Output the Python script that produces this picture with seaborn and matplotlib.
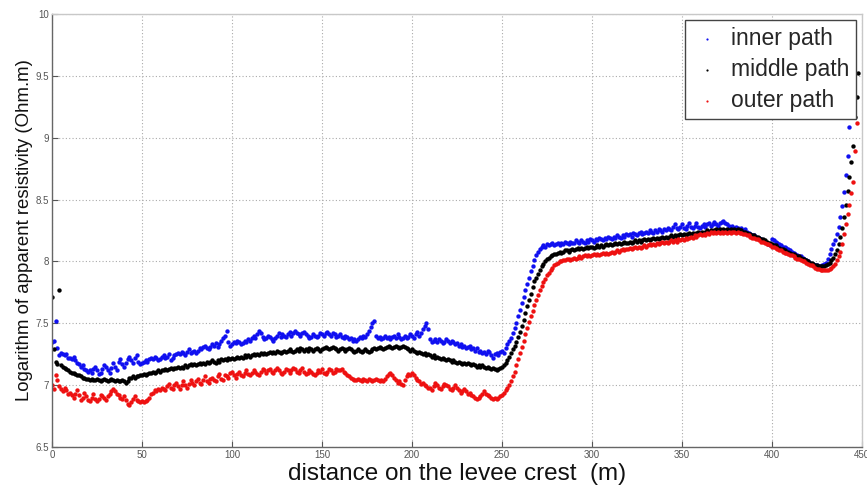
import numpy as np
import pandas as pd
import matplotlib
matplotlib.use("Agg")
import matplotlib.pyplot as plt
import seaborn as sns

nan = np.nan
# distance along the levee crest (m), 1 m steps
distance = list(range(0, 449))

inner_path = [
    7.35, 7.36, 7.52, 7.30, 7.24, 7.26, 7.25, 7.24, 7.25, 7.22,
    7.22, 7.21, 7.23, 7.20, 7.18, 7.17, 7.15, 7.16, 7.13, 7.12,
    7.11, 7.12, 7.10, 7.13, 7.15, 7.12, 7.09, 7.10, 7.13, 7.16,
    7.15, 7.12, 7.10, 7.14, 7.18, 7.15, 7.12, 7.19, 7.21, 7.17,
    7.15, 7.18, 7.21, 7.23, 7.20, 7.18, 7.22, 7.24, 7.19, 7.17,
    7.18, 7.19, 7.20, 7.19, 7.21, 7.22, 7.21, 7.23, 7.22, 7.20,
    7.21, 7.23, 7.24, 7.22, 7.23, 7.25, 7.20, 7.22, 7.24, 7.25,
    7.26, 7.25, 7.27, 7.26, 7.24, 7.27, 7.29, 7.26, 7.27, 7.28,
    7.26, 7.28, 7.30, 7.29, 7.31, 7.32, 7.30, 7.29, 7.31, 7.33,
    7.32, 7.34, 7.31, 7.33, 7.36, 7.38, 7.40, 7.44, 7.35, 7.32,
    7.33, 7.35, 7.34, 7.36, 7.35, 7.33, 7.34, 7.36, 7.35, 7.37,
    7.36, 7.38, 7.40, 7.38, 7.41, 7.44, 7.42, 7.39, 7.37, 7.38,
    7.40, 7.39, 7.37, 7.36, 7.38, 7.40, 7.42, 7.39, 7.41, 7.40,
    7.39, 7.41, 7.43, 7.40, 7.42, 7.44, 7.42, 7.41, 7.40, 7.42,
    7.43, 7.41, 7.40, 7.38, 7.39, 7.41, 7.40, 7.39, 7.40, 7.42,
    7.41, 7.40, 7.42, 7.43, 7.41, 7.40, 7.42, 7.41, 7.39, 7.40,
    7.41, 7.39, 7.38, 7.40, 7.39, 7.37, 7.38, 7.36, 7.37, 7.36,
    7.37, 7.39, 7.38, 7.40, 7.39, 7.41, 7.44, 7.47, 7.50, 7.52,
    7.40, 7.38, 7.39, 7.37, 7.38, 7.40, 7.38, 7.39, 7.37, 7.39,
    7.40, 7.38, 7.41, 7.39, 7.37, 7.38, 7.40, 7.38, 7.39, 7.41,
    7.40, 7.38, 7.41, 7.43, 7.40, 7.42, 7.45, 7.48, 7.50, 7.45,
    7.37, 7.35, 7.36, 7.37, 7.35, 7.37, 7.36, 7.34, 7.35, 7.37,
    7.36, 7.34, 7.36, 7.35, 7.33, 7.34, 7.32, 7.33, 7.31, 7.32,
    7.30, 7.31, 7.32, 7.29, 7.30, 7.28, 7.30, 7.27, 7.28, 7.26,
    7.27, 7.25, 7.28, 7.27, 7.24, 7.22, 7.25, 7.26, 7.24, 7.27,
    7.28, 7.26, 7.30, 7.33, 7.36, 7.38, 7.42, 7.46, 7.50, 7.56,
    7.61, 7.66, 7.71, 7.77, 7.82, 7.87, 7.92, 7.96, 8.01, 8.05,
    8.08, 8.10, 8.12, 8.13, 8.12, 8.14, 8.13, 8.14, 8.15, 8.13,
    8.14, 8.15, 8.13, 8.15, 8.14, 8.16, 8.15, 8.14, 8.16, 8.15,
    8.15, 8.17, 8.16, 8.15, 8.17, 8.16, 8.15, 8.17, 8.16, 8.18,
    8.17, 8.16, 8.18, 8.17, 8.19, 8.18, 8.17, 8.19, 8.18, 8.20,
    8.19, 8.18, 8.20, 8.19, 8.21, 8.20, 8.19, 8.21, 8.20, 8.22,
    8.21, 8.22, 8.20, 8.23, 8.22, 8.21, 8.23, 8.24, 8.22, 8.23,
    8.24, 8.23, 8.25, 8.24, 8.23, 8.25, 8.24, 8.26, 8.25, 8.24,
    8.26, 8.25, 8.27, 8.26, 8.25, 8.28, 8.30, 8.27, 8.26, 8.28,
    8.30, 8.27, 8.26, 8.29, 8.31, 8.28, 8.27, 8.29, 8.31, 8.28,
    8.27, 8.29, 8.30, 8.28, 8.30, 8.31, 8.29, 8.30, 8.32, 8.30,
    8.29, 8.31, 8.32, 8.33, 8.31, 8.30, 8.29, 8.28, 8.29, 8.27,
    8.28, 8.27, 8.26, 8.27, 8.25, 8.26, 8.24, 8.23, 8.22, 8.21,
    8.21, 8.20, 8.19, 8.19, 8.18, 8.17, 8.16, 8.15, 8.14, 8.13,
    8.18, 8.17, 8.16, 8.15, 8.14, 8.13, 8.12, 8.12, 8.11, 8.10,
    8.09, 8.08, 8.07, 8.06, 8.05, 8.04, 8.04, 8.03, 8.02, 8.01,
    8.00, 7.99, 7.98, 7.98, 7.97, 7.97, 7.96, 7.96, 7.97, 7.98,
    7.99, 8.02, 8.06, 8.10, 8.14, 8.17, 8.22, 8.28, 8.36, 8.45,
    8.56, 8.70, 8.85, 9.09, nan, nan, nan, nan, nan,
]

middle_path = [
    7.71, 7.29, 7.19, 7.17, 7.77, 7.16, 7.15, 7.14, 7.13, 7.12,
    7.11, 7.10, 7.10, 7.09, 7.08, 7.08, 7.07, 7.06, 7.06, 7.05,
    7.05, 7.04, 7.05, 7.04, 7.04, 7.05, 7.04, 7.03, 7.04, 7.05,
    7.04, 7.03, 7.04, 7.05, 7.04, 7.03, 7.04, 7.03, 7.03, 7.04,
    7.03, 7.02, 7.03, 7.06, 7.06, 7.07, 7.06, 7.07, 7.07, 7.08,
    7.08, 7.09, 7.08, 7.09, 7.10, 7.10, 7.11, 7.10, 7.11, 7.12,
    7.11, 7.12, 7.12, 7.13, 7.12, 7.13, 7.14, 7.13, 7.14, 7.14,
    7.15, 7.14, 7.15, 7.14, 7.16, 7.15, 7.16, 7.17, 7.16, 7.17,
    7.16, 7.17, 7.18, 7.17, 7.18, 7.17, 7.19, 7.18, 7.19, 7.20,
    7.19, 7.18, 7.20, 7.19, 7.21, 7.20, 7.21, 7.20, 7.22, 7.21,
    7.22, 7.21, 7.22, 7.23, 7.22, 7.23, 7.22, 7.24, 7.23, 7.24,
    7.23, 7.24, 7.25, 7.24, 7.25, 7.24, 7.26, 7.25, 7.26, 7.25,
    7.26, 7.27, 7.26, 7.27, 7.26, 7.28, 7.27, 7.26, 7.27, 7.28,
    7.27, 7.28, 7.29, 7.28, 7.27, 7.28, 7.29, 7.28, 7.30, 7.29,
    7.28, 7.29, 7.28, 7.30, 7.29, 7.28, 7.29, 7.30, 7.29, 7.28,
    7.29, 7.30, 7.31, 7.30, 7.29, 7.30, 7.31, 7.30, 7.29, 7.28,
    7.29, 7.30, 7.29, 7.28, 7.29, 7.30, 7.29, 7.28, 7.27, 7.28,
    7.29, 7.28, 7.27, 7.28, 7.29, 7.28, 7.27, 7.28, 7.29, 7.30,
    7.29, 7.30, 7.31, 7.30, 7.29, 7.30, 7.31, 7.32, 7.31, 7.30,
    7.31, 7.32, 7.31, 7.30, 7.31, 7.32, 7.31, 7.30, 7.29, 7.28,
    7.29, 7.28, 7.27, 7.26, 7.27, 7.26, 7.25, 7.26, 7.24, 7.25,
    7.24, 7.23, 7.24, 7.22, 7.23, 7.22, 7.21, 7.22, 7.21, 7.20,
    7.21, 7.20, 7.19, 7.20, 7.19, 7.18, 7.19, 7.18, 7.17, 7.18,
    7.17, 7.18, 7.17, 7.16, 7.17, 7.16, 7.15, 7.16, 7.15, 7.16,
    7.15, 7.14, 7.15, 7.14, 7.13, 7.14, 7.13, 7.12, 7.13, 7.14,
    7.15, 7.16, 7.18, 7.20, 7.23, 7.26, 7.29, 7.32, 7.35, 7.39,
    7.43, 7.48, 7.53, 7.58, 7.64, 7.69, 7.74, 7.79, 7.84, 7.87,
    7.90, 7.93, 7.96, 7.98, 8.00, 8.02, 8.03, 8.04, 8.05, 8.06,
    8.06, 8.07, 8.08, 8.07, 8.08, 8.09, 8.09, 8.08, 8.09, 8.10,
    8.09, 8.10, 8.11, 8.10, 8.11, 8.10, 8.11, 8.12, 8.11, 8.12,
    8.12, 8.11, 8.12, 8.13, 8.12, 8.13, 8.12, 8.13, 8.14, 8.13,
    8.14, 8.13, 8.14, 8.15, 8.14, 8.15, 8.14, 8.15, 8.16, 8.15,
    8.15, 8.16, 8.15, 8.16, 8.17, 8.16, 8.17, 8.16, 8.17, 8.18,
    8.17, 8.18, 8.17, 8.18, 8.19, 8.18, 8.19, 8.18, 8.19, 8.20,
    8.19, 8.20, 8.19, 8.20, 8.21, 8.20, 8.21, 8.20, 8.21, 8.22,
    8.21, 8.22, 8.21, 8.22, 8.23, 8.22, 8.23, 8.22, 8.23, 8.24,
    8.23, 8.24, 8.23, 8.24, 8.25, 8.24, 8.25, 8.24, 8.25, 8.26,
    8.25, 8.26, 8.25, 8.26, 8.25, 8.26, 8.25, 8.26, 8.25, 8.26,
    8.25, 8.26, 8.25, 8.25, 8.24, 8.24, 8.23, 8.22, 8.22, 8.21,
    8.21, 8.20, 8.20, 8.19, 8.18, 8.18, 8.17, 8.16, 8.15, 8.15,
    8.14, 8.13, 8.13, 8.12, 8.11, 8.10, 8.10, 8.09, 8.08, 8.08,
    8.07, 8.06, 8.06, 8.05, 8.04, 8.04, 8.03, 8.02, 8.02, 8.01,
    8.00, 7.99, 7.99, 7.98, 7.97, 7.97, 7.96, 7.96, 7.96, 7.96,
    7.97, 7.98, 7.99, 8.01, 8.03, 8.06, 8.09, 8.14, 8.20, 8.27,
    8.36, 8.46, 8.57, 8.68, 8.80, 8.93, 9.17, 9.33, 9.52,
]

outer_path = [
    7.00, 6.97, 7.08, 7.04, 6.99, 6.97, 6.95, 6.98, 6.96, 6.93,
    6.94, 6.92, 6.90, 6.93, 6.96, 6.92, 6.88, 6.90, 6.94, 6.91,
    6.88, 6.87, 6.90, 6.93, 6.89, 6.87, 6.89, 6.92, 6.91, 6.90,
    6.88, 6.91, 6.93, 6.95, 6.97, 6.95, 6.93, 6.92, 6.90, 6.89,
    6.91, 6.88, 6.85, 6.84, 6.86, 6.89, 6.91, 6.88, 6.87, 6.86,
    6.87, 6.86, 6.87, 6.88, 6.90, 6.93, 6.94, 6.96, 6.95, 6.97,
    6.96, 6.98, 6.97, 6.96, 6.99, 7.01, 6.98, 6.97, 7.00, 7.02,
    6.99, 6.97, 7.00, 7.03, 7.00, 6.98, 7.01, 7.04, 7.02, 7.00,
    7.03, 7.05, 7.02, 7.01, 7.04, 7.07, 7.03, 7.02, 7.05, 7.06,
    7.04, 7.03, 7.07, 7.09, 7.05, 7.04, 7.08, 7.07, 7.06, 7.10,
    7.11, 7.08, 7.06, 7.09, 7.11, 7.08, 7.07, 7.10, 7.12, 7.09,
    7.08, 7.10, 7.12, 7.11, 7.09, 7.08, 7.11, 7.13, 7.12, 7.10,
    7.12, 7.13, 7.11, 7.10, 7.12, 7.14, 7.12, 7.10, 7.09, 7.11,
    7.13, 7.12, 7.10, 7.12, 7.14, 7.13, 7.11, 7.10, 7.12, 7.14,
    7.11, 7.09, 7.10, 7.12, 7.11, 7.09, 7.08, 7.10, 7.12, 7.11,
    7.13, 7.10, 7.09, 7.11, 7.13, 7.12, 7.10, 7.11, 7.13, 7.12,
    7.12, 7.13, 7.11, 7.10, 7.08, 7.07, 7.06, 7.05, 7.04, 7.04,
    7.05, 7.04, 7.03, 7.05, 7.04, 7.03, 7.05, 7.04, 7.03, 7.04,
    7.05, 7.04, 7.03, 7.04, 7.03, 7.05, 7.07, 7.09, 7.10, 7.08,
    7.06, 7.04, 7.02, 7.03, 7.01, 7.00, 7.04, 7.07, 7.09, 7.08,
    7.10, 7.08, 7.06, 7.04, 7.03, 7.01, 7.02, 7.00, 6.99, 6.98,
    6.98, 6.96, 6.99, 7.02, 7.00, 6.98, 6.97, 6.99, 7.01, 7.00,
    6.99, 6.97, 6.96, 6.98, 7.00, 6.98, 6.96, 6.94, 6.95, 6.97,
    6.95, 6.93, 6.94, 6.92, 6.91, 6.90, 6.89, 6.90, 6.91, 6.93,
    6.95, 6.93, 6.92, 6.91, 6.90, 6.89, 6.90, 6.89, 6.90, 6.91,
    6.92, 6.94, 6.96, 6.98, 7.00, 7.03, 7.07, 7.11, 7.16, 7.21,
    7.26, 7.31, 7.36, 7.41, 7.46, 7.51, 7.56, 7.60, 7.65, 7.69,
    7.73, 7.77, 7.80, 7.83, 7.86, 7.89, 7.91, 7.93, 7.95, 7.97,
    7.98, 7.99, 8.00, 8.00, 8.01, 8.01, 8.02, 8.02, 8.01, 8.02,
    8.03, 8.02, 8.03, 8.04, 8.03, 8.04, 8.05, 8.04, 8.05, 8.04,
    8.05, 8.06, 8.05, 8.06, 8.05, 8.06, 8.07, 8.06, 8.07, 8.06,
    8.07, 8.08, 8.07, 8.08, 8.09, 8.08, 8.09, 8.10, 8.09, 8.10,
    8.10, 8.11, 8.10, 8.11, 8.12, 8.11, 8.12, 8.11, 8.12, 8.13,
    8.12, 8.13, 8.14, 8.13, 8.14, 8.13, 8.15, 8.14, 8.15, 8.16,
    8.15, 8.16, 8.15, 8.16, 8.17, 8.16, 8.17, 8.16, 8.18, 8.17,
    8.18, 8.17, 8.19, 8.18, 8.19, 8.20, 8.19, 8.21, 8.20, 8.21,
    8.22, 8.21, 8.22, 8.21, 8.23, 8.22, 8.24, 8.23, 8.24, 8.23,
    8.24, 8.23, 8.24, 8.23, 8.24, 8.23, 8.24, 8.23, 8.24, 8.24,
    8.23, 8.24, 8.23, 8.23, 8.22, 8.22, 8.21, 8.21, 8.20, 8.19,
    8.19, 8.18, 8.18, 8.17, 8.16, 8.16, 8.15, 8.14, 8.14, 8.13,
    8.12, 8.12, 8.11, 8.10, 8.09, 8.09, 8.08, 8.07, 8.07, 8.06,
    8.05, 8.05, 8.04, 8.03, 8.02, 8.02, 8.01, 8.00, 8.00, 7.99,
    7.98, 7.97, 7.97, 7.96, 7.95, 7.94, 7.94, 7.93, 7.93, 7.93,
    7.93, 7.93, 7.94, 7.95, 7.96, 7.98, 8.01, 8.04, 8.08, 8.14,
    8.22, 8.30, 8.38, 8.46, 8.55, 8.64, 8.89, 9.12, nan,
]

series_names = ["inner path", "middle path", "outer path"]
series_colors = ["#1010f0", "#000000", "#ee1111"]
x_ticks = [0, 50, 100, 150, 200, 250, 300, 350, 400, 450]
y_ticks = [6.5, 7, 7.5, 8, 8.5, 9, 9.5, 10]
y_tick_labels = ["6.5", "7", "7.5", "8", "8.5", "9", "9.5", "10"]

sns.set_theme(style="white")
plt.rcParams["font.family"] = ["Liberation Sans", "DejaVu Sans"]

fig = plt.figure(figsize=(8.67, 4.91), dpi=100)
ax = fig.add_axes([0.0600, 0.0896, 0.9342, 0.8819])

for name, vals, col in zip(series_names, [inner_path, middle_path, outer_path], series_colors):
    df = pd.DataFrame({"distance": distance, "value": vals}).dropna()
    sns.scatterplot(data=df, x="distance", y="value", ax=ax, color=col,
                    s=10, linewidth=0, marker="o", label=name, legend=False)

ax.set_xlim(0, 450)
ax.set_ylim(6.5, 10)
ax.set_xticks(x_ticks)
ax.set_xticklabels([str(t) for t in x_ticks])
ax.set_yticks(y_ticks)
ax.set_yticklabels(y_tick_labels)
ax.tick_params(axis="both", direction="in", length=4, width=0.8,
               labelsize=7, colors="#555555", pad=2,
               top=False, right=False, bottom=True, left=True)
ax.grid(True, linestyle=(0, (1, 2)), color="#aaaaaa", linewidth=0.8)

for side in ["left", "bottom"]:
    ax.spines[side].set_color("#666666")
    ax.spines[side].set_linewidth(1.0)
for side in ["top", "right"]:
    ax.spines[side].set_color("#c8c8c8")
    ax.spines[side].set_linewidth(1.0)

ax.set_xlabel("distance on the levee crest  (m)", fontsize=17.5, color="#111111", labelpad=2)
ax.set_ylabel("Logarithm of apparent resistivity (Ohm.m)", fontsize=13.4, color="#111111", labelpad=2)

leg = ax.legend(loc="upper right", fontsize=16.5, markerscale=0.5, frameon=True,
                fancybox=False, edgecolor="#444444", framealpha=1,
                borderaxespad=0.25, handletextpad=0.4, labelspacing=0.36,
                borderpad=0.3, handlelength=1.3)
leg.get_frame().set_linewidth(1.0)

fig.savefig("out.png", dpi=100)
